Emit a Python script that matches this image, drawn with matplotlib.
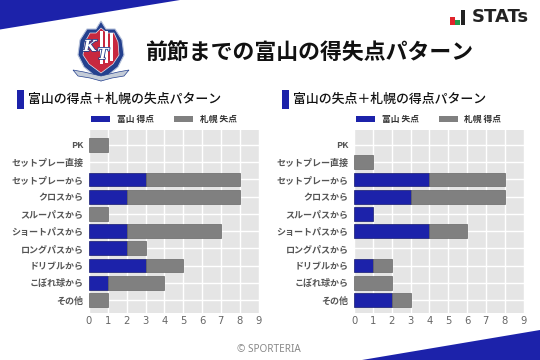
import matplotlib
matplotlib.use('Agg')
import matplotlib.pyplot as plt
import matplotlib.patheffects as pe
from matplotlib.patches import Polygon, Rectangle

plt.rcParams['font.family'] = ['Noto Sans CJK JP', 'DejaVu Sans']

categories = ['PK', 'セットプレー直接', 'セットプレーから', 'クロスから', 'スルーパスから',
              'ショートパスから', 'ロングパスから', 'ドリブルから', 'こぼれ球から', 'その他']
left_blue = [0, 0, 3, 2, 0, 2, 2, 3, 1, 0]
left_gray = [1, 0, 5, 6, 1, 5, 1, 2, 3, 1]
right_blue = [0, 0, 4, 3, 1, 4, 0, 1, 0, 2]
right_gray = [0, 1, 4, 5, 0, 2, 0, 1, 2, 1]
title = '前節までの富山の得失点パターン'
left_title = '富山の得点＋札幌の失点パターン'
right_title = '富山の失点＋札幌の得点パターン'
left_legend = ['富山 得点', '札幌 失点']
right_legend = ['富山 失点', '札幌 得点']
xticks = list(range(10))

W, H = 540, 360
BLUE = '#1c22aa'
GRAY = '#808080'
fig = plt.figure(figsize=(W / 100, H / 100), dpi=100, facecolor='white')
bg = fig.add_axes([0, 0, 1, 1])
bg.set_xlim(0, W)
bg.set_ylim(H, 0)
bg.axis('off')


def panel(x0, blue, gray, sub, legend):
    ax = fig.add_axes([x0 / W, 1 - 312.7 / H, 169.5 / W, 182.7 / H], facecolor='#e5e5e5')
    y = list(range(len(categories)))
    for yi, b, g in zip(y, blue, gray):
        if b > 0:
            ax.barh(yi, b, height=0.8, color=BLUE, edgecolor='#15196f', linewidth=0.5, zorder=3)
        if g > 0:
            ax.barh(yi, g, left=b, height=0.8, color=GRAY, edgecolor='#666666', linewidth=0.5, zorder=3)
    ax.set_xlim(0, 9)
    ax.set_ylim(9.74, -0.87)
    ax.set_xticks(xticks)
    ax.set_yticks(y)
    ax.set_yticklabels(categories, fontsize=6.5, fontweight='bold', color='#555555')
    ax.tick_params(axis='x', length=0, labelsize=7.2, labelcolor='#666666', pad=2.5)
    ax.tick_params(axis='y', length=0, pad=4)
    for l in ax.get_xticklabels():
        l.set_family(['DejaVu Sans'])
    ax.grid(True, color='white', linewidth=1, zorder=1)
    ax.set_axisbelow(True)
    for s in ax.spines.values():
        s.set_visible(False)
    bg.add_patch(Rectangle((x0 - 72, 90), 7, 19, color=BLUE, lw=0))
    bg.text(x0 - 61, 99.5, sub, fontsize=9.3, fontweight='medium', color='#111111', va='center', ha='left')
    bg.add_patch(Rectangle((x0 + 2, 115.5), 19, 6, color=BLUE, lw=0))
    bg.add_patch(Rectangle((x0 + 84.5, 115.5), 19, 6, color=GRAY, lw=0))
    bg.text(x0 + 28, 119.5, legend[0], fontsize=6.3, fontweight='bold', color='#333333', va='center')
    bg.text(x0 + 110.5, 119.5, legend[1], fontsize=6.3, fontweight='bold', color='#333333', va='center')


panel(89, left_blue, left_gray, left_title, left_legend)
panel(354, right_blue, right_gray, right_title, right_legend)

# corner ribbons
bg.add_patch(Polygon([(0, 0), (180, 0), (0, 29.5)], closed=True, color=BLUE, lw=0))
bg.add_patch(Polygon([(540, 330), (540, 360), (362, 360)], closed=True, color=BLUE, lw=0))

# title and footer
bg.text(145, 53, title, fontsize=15.75, fontweight='bold', color='#111111', va='center', ha='left')
bg.text(269, 350, '© SPORTERIA', fontsize=7.2, color='#888888', va='center', ha='center',
        family=['Noto Sans', 'DejaVu Sans'])

# STATs logo
bg.add_patch(Rectangle((450, 17), 4.5, 7.5, color='#e0242c', lw=0))
bg.add_patch(Rectangle((455, 19.5), 4.5, 5, color='#1f9a4c', lw=0))
bg.add_patch(Rectangle((460.5, 10), 4.5, 14.5, color='#222222', lw=0))
bg.text(472, 17, 'STATs', fontsize=13, fontweight='bold', color='#222222', va='center', ha='left',
        family='DejaVu Sans')

# crest
crest = [(101, 21), (106, 29), (115, 29), (122, 40), (124, 55), (118, 67), (101, 81),
         (84, 67), (78, 55), (80, 40), (87, 29), (96, 29)]
bg.add_patch(Polygon(crest, closed=True, facecolor='#24408e', edgecolor='#b9c4dc', lw=0.8))
inner = [(101, 28), (107, 33), (114, 33), (118, 42), (119, 55), (113, 64), (101, 73),
         (89, 64), (83, 55), (85, 42), (90, 33), (96, 33)]
bg.add_patch(Polygon(inner, closed=True, facecolor='#c8283f', edgecolor='#e8e8f0', lw=0.5))
bg.add_patch(Rectangle((100, 31), 2.5, 33, color='white', lw=0))
bg.add_patch(Rectangle((105, 31), 3, 32, color='white', lw=0))
bg.add_patch(Rectangle((110, 33), 2.5, 28, color='white', lw=0))
outline = [pe.withStroke(linewidth=1.2, foreground='#24408e')]
bg.text(90, 47, 'K', fontsize=11, fontweight='bold', style='italic', color='white', ha='center', va='center',
        family='DejaVu Serif', path_effects=outline)
bg.text(103, 55, 'T', fontsize=11, fontweight='bold', style='italic', color='white', ha='center', va='center',
        family='DejaVu Serif', path_effects=outline)
ribbon = [(73, 70), (84, 72), (101, 76), (118, 72), (129, 70), (124, 76), (112, 78), (101, 81), (90, 78), (78, 76)]
bg.add_patch(Polygon(ribbon, closed=True, facecolor='#c4ccd8', edgecolor='#24408e', lw=0.5))

fig.savefig('out.png', dpi=100)
